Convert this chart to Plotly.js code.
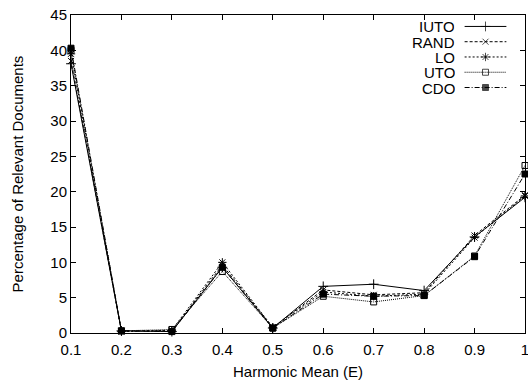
<!DOCTYPE html>
<html>
<head>
<meta charset="utf-8">
<script src="https://cdn.plot.ly/plotly-3.0.1.min.js"></script>
<style>html,body{margin:0;padding:0;background:#fff;}#chart{width:528px;height:381px;}</style>
</head>
<body>
<div id="chart"></div>
<script>
// ---- data ----
const harmonicMean = [0.1, 0.2, 0.3, 0.4, 0.5, 0.6, 0.7, 0.8, 0.9, 1.0];
const seriesNames = ["IUTO", "RAND", "LO", "UTO", "CDO"];
const iuto = [38.1, 0.3, 0.2, 9.3, 0.7, 6.6, 6.9, 6.0, 13.6, 19.2];
const rand = [38.5, 0.3, 0.3, 9.6, 0.8, 6.1, 5.4, 5.7, 13.8, 19.5];
const lo   = [39.5, 0.2, 0.4, 10.0, 0.8, 5.8, 5.2, 5.5, 13.5, 19.4];
const uto  = [40.0, 0.3, 0.5, 8.7, 0.7, 5.2, 4.4, 5.3, 10.9, 23.7];
const cdo  = [40.3, 0.3, 0.2, 9.3, 0.7, 5.5, 5.2, 5.3, 10.8, 22.5];
const xTicks = [0.1, 0.2, 0.3, 0.4, 0.5, 0.6, 0.7, 0.8, 0.9, 1];
const xTickLabels = ["0.1", "0.2", "0.3", "0.4", "0.5", "0.6", "0.7", "0.8", "0.9", "1"];
const yTicks = [0, 5, 10, 15, 20, 25, 30, 35, 40, 45];
const xTitle = "Harmonic Mean (E)";
const yTitle = "Percentage of Relevant Documents";

// ---- styles ----
const styles = [
  {dash: "solid", symbol: "cross-thin-open", size: 7},
  {dash: "3px,2px", symbol: "x-thin-open", size: 6},
  {dash: "2px,2px", symbol: "asterisk-open", size: 7},
  {dash: "1px,1px", symbol: "square-open", size: 6},
  {dash: "5px,2px,1px,2px", symbol: "square", size: 6}
];
const values = [iuto, rand, lo, uto, cdo];
const fam = "Liberation Sans, Arial, sans-serif";

const traces = [];
values.forEach((v, i) => {
  traces.push({
    x: harmonicMean, y: v, type: "scatter", mode: "lines+markers",
    name: seriesNames[i], showlegend: false, cliponaxis: false,
    line: {color: "#000", width: 1, dash: styles[i].dash},
    marker: {symbol: styles[i].symbol, size: styles[i].size, color: "#000",
             line: {color: "#000", width: 1}}
  });
});

// custom gnuplot-style key (text left of the sample)
const keyX0 = 0.867, keyX1 = 0.959, keyXm = 0.913;
const keyRows = [0.964, 0.916, 0.868, 0.820, 0.772];
const annotations = [];
seriesNames.forEach((n, i) => {
  traces.push({
    x: [keyX0, keyXm, keyX1], y: [keyRows[i], keyRows[i], keyRows[i]],
    xaxis: "x2", yaxis: "y2", type: "scatter", mode: "lines+markers",
    showlegend: false, hoverinfo: "skip",
    line: {color: "#000", width: 1, dash: styles[i].dash},
    marker: {symbol: styles[i].symbol, size: [0, styles[i].size, 0], color: "#000",
             line: {color: "#000", width: 1}}
  });
  annotations.push({
    xref: "x2", yref: "y2", x: 0.848, y: keyRows[i], text: n, showarrow: false,
    xanchor: "right", yanchor: "middle", borderpad: 0, height: 14, valign: "middle",
    font: {family: fam, size: 15, color: "#000"}
  });
});

// axis titles placed as in the reference
annotations.push({
  xref: "paper", yref: "paper", x: -0.118, y: 0.5, text: yTitle, textangle: -90,
  showarrow: false, xanchor: "center", yanchor: "middle",
  font: {family: fam, size: 15, color: "#000"}
});
annotations.push({
  xref: "paper", yref: "paper", x: 0.5, y: -0.121, text: xTitle,
  showarrow: false, xanchor: "center", yanchor: "middle",
  font: {family: fam, size: 15, color: "#000"}
});

const layout = {
  width: 528, height: 381,
  margin: {l: 71, r: 3, t: 15, b: 48},
  paper_bgcolor: "#fff", plot_bgcolor: "#fff",
  font: {family: fam, size: 15, color: "#000"},
  showlegend: false,
  xaxis: {
    range: [0.1, 1], tickvals: xTicks, ticktext: xTickLabels,
    ticks: "inside", ticklen: 5, tickwidth: 1, tickcolor: "#000",
    ticklabeloverflow: "allow", ticklabelstandoff: 3,
    showline: true, linecolor: "#000", linewidth: 1, mirror: "allticks",
    showgrid: false, zeroline: false
  },
  yaxis: {
    range: [0, 45], tickvals: yTicks,
    ticks: "inside", ticklen: 5, tickwidth: 1, tickcolor: "#000",
    showline: true, linecolor: "#000", linewidth: 1, mirror: "allticks",
    showgrid: false, zeroline: false
  },
  xaxis2: {overlaying: "x", range: [0, 1], visible: false, fixedrange: true},
  yaxis2: {overlaying: "y", range: [0, 1], visible: false, fixedrange: true},
  annotations: annotations
};

Plotly.newPlot("chart", traces, layout, {displayModeBar: false, staticPlot: true});
</script>
</body>
</html>
